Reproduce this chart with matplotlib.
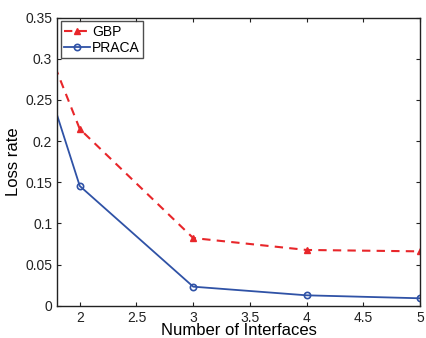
import matplotlib.pyplot as plt

plt.rcParams["font.family"] = ["Liberation Sans", "DejaVu Sans"]

interfaces = [1, 2, 3, 4, 5]
gbp_loss = [0.562, 0.2146, 0.0822, 0.0677, 0.066]
praca_loss = [0.576, 0.1454, 0.0231, 0.0126, 0.009]

fig = plt.figure(figsize=(4.26, 3.38), dpi=100)
ax = fig.add_axes([0.134, 0.0956, 0.852, 0.8524])

ax.plot(interfaces, gbp_loss, color="#e8262a", linestyle="--", linewidth=1.5,
        marker="^", markersize=5, markerfacecolor="#e8262a", markeredgecolor="#e8262a",
        dashes=(4, 3), label="GBP")
ax.plot(interfaces, praca_loss, color="#2f52a6", linestyle="-", linewidth=1.3,
        marker="o", markersize=4.5, markerfacecolor="none", markeredgecolor="#2f52a6",
        markeredgewidth=1.2, label="PRACA")

ax.set_xlim(1.8, 5)
ax.set_ylim(0, 0.35)
ax.set_xticks([2, 2.5, 3, 3.5, 4, 4.5, 5])
ax.set_xticklabels(["2", "2.5", "3", "3.5", "4", "4.5", "5"])
ax.set_yticks([0, 0.05, 0.1, 0.15, 0.2, 0.25, 0.3, 0.35])
ax.set_yticklabels(["0", "0.05", "0.1", "0.15", "0.2", "0.25", "0.3", "0.35"])
ax.tick_params(direction="in", top=True, right=True, labelsize=10, length=3,
               colors="#222222")
for s in ax.spines.values():
    s.set_linewidth(1.0)
    s.set_color("#222222")

ax.set_xlabel("Number of Interfaces", fontsize=12, labelpad=-1)
ax.set_ylabel("Loss rate", fontsize=12, labelpad=3)

leg = ax.legend(loc="upper left", fontsize=10, frameon=True, fancybox=False,
                borderpad=0.25, handlelength=1.85, handletextpad=0.15,
                labelspacing=0.15, borderaxespad=0.25)
leg.get_frame().set_edgecolor("#222222")
leg.get_frame().set_linewidth(1.0)

fig.savefig("out.png", dpi=100)
